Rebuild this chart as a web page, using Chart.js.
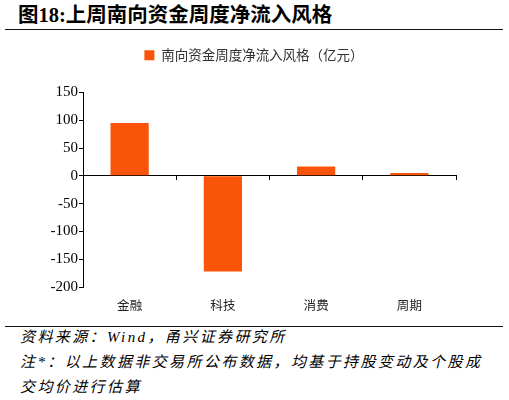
<!DOCTYPE html>
<html>
<head>
<meta charset="utf-8">
<script src="https://cdn.jsdelivr.net/npm/chart.js@4"></script>
<style>
  body { margin: 0; width: 509px; height: 400px; background: #fff; position: relative; overflow: hidden; }
  .title { position: absolute; left: 18px; top: 3px; font: bold 20.5px "Liberation Serif", "Noto Sans CJK SC"; line-height: 24px; color: #000; white-space: nowrap; }
  .rule { position: absolute; left: 5px; width: 498px; height: 1px; background: #111; }
  #wrap { position: absolute; left: 0; top: 35px; width: 509px; height: 285px; }
  .note { position: absolute; left: 20px; top: 325px; font: italic 15px "Liberation Serif", "Noto Sans CJK SC"; letter-spacing: 2.4px; line-height: 25px; color: #000; white-space: nowrap; }
</style>
</head>
<body>
<div class="title">图18:上周南向资金周度净流入风格</div>
<div class="rule" style="top:29px"></div>
<div id="wrap"><canvas id="chart"></canvas></div>
<div class="rule" style="top:326px"></div>
<div class="note">资料来源：Wind，甬兴证券研究所<br>注*：以上数据非交易所公布数据，均基于持股变动及个股成<br>交均价进行估算</div>
<script>
// 南向资金周度净流入（亿元）
const categories = ["金融", "科技", "消费", "周期"];
const netInflow = [95, -172, 17, 5];
const seriesName = "南向资金周度净流入风格（亿元）";
const yTicks = { min: -200, max: 150, step: 50 };

const barColor = "rgb(250, 84, 10)";

// push the plot area down below the legend, and centre the legend on the page
const legendGap = {
  id: "legendGap",
  beforeInit(chart) {
    const fit = chart.legend.fit;
    chart.legend.fit = function () {
      fit.call(this);
      this.height += 20.5;
    };
  },
  afterLayout(chart) {
    chart.legend.left += 26;
    chart.legend.right += 26;
  },
};

new Chart(document.getElementById("chart"), {
  type: "bar",
  data: {
    labels: categories,
    datasets: [
      {
        label: seriesName,
        data: netInflow,
        backgroundColor: barColor,
        borderWidth: 0,
        categoryPercentage: 1,
        barPercentage: 0.41,
      },
    ],
  },
  options: {
    responsive: true,
    maintainAspectRatio: false,
    animation: false,
    layout: { padding: { top: 3.5, right: 53, bottom: 0, left: 0 } },
    plugins: {
      legend: {
        position: "top",
        labels: {
          boxWidth: 10,
          boxHeight: 10,
          padding: 10,
          color: "#333",
          font: { family: "Noto Sans CJK SC", size: 13.5 },
        },
      },
      tooltip: { enabled: false },
    },
    scales: {
      x: {
        type: "category",
        grid: { display: false, drawTicks: false },
        border: { display: false },
        ticks: {
          color: "#222",
          padding: 11,
          font: { family: "Noto Sans CJK SC", size: 12.5 },
        },
        afterFit(scale) { scale.height = 33; },
      },
      // zero line with ticks between categories
      x2: {
        type: "category",
        position: { y: 0 },
        offset: true,
        grid: { offset: true, drawOnChartArea: false, drawTicks: true, tickLength: 4, color: "#000" },
        border: { display: true, color: "#000", width: 1 },
        ticks: { display: false },
      },
      y: {
        min: yTicks.min,
        max: yTicks.max,
        ticks: {
          stepSize: yTicks.step,
          color: "#000",
          padding: 1,
          font: { family: "Liberation Serif", size: 15 },
        },
        grid: { drawOnChartArea: false, drawTicks: true, tickLength: 4, color: "#000" },
        border: { display: true, color: "#000", width: 1 },
        afterFit(scale) { scale.width = 83; },
      },
    },
  },
  plugins: [legendGap],
});
</script>
</body>
</html>
